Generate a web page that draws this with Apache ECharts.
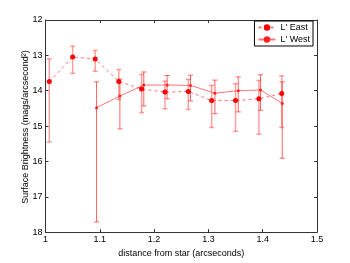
<!DOCTYPE html>
<html><head><meta charset="utf-8">
<script src="https://cdn.jsdelivr.net/npm/echarts@6/dist/echarts.min.js"></script>
<style>html,body{margin:0;padding:0;background:#fff}#c{width:350px;height:263px}</style>
</head><body><div id="c"></div>
<script>
const eastX   = [1.007, 1.050, 1.0915, 1.135, 1.177, 1.220, 1.263, 1.306, 1.350, 1.393, 1.435];
const eastY   = [13.74, 13.05, 13.10, 13.74, 13.95, 14.04, 14.02, 14.28, 14.28, 14.23, 14.08];
const eastTop = [13.10, 12.74, 12.86, 13.40, 13.54, 13.73, 13.68, 13.85, 13.80, 13.71, 13.58];
const eastBot = [15.45, 13.51, 13.45, 14.25, 14.62, 14.51, 14.53, 15.04, 15.15, 15.23, 15.04];
const westX   = [1.094, 1.137, 1.181, 1.224, 1.267, 1.312, 1.355, 1.396, 1.436];
const westY   = [14.48, 14.15, 13.84, 13.84, 13.85, 14.07, 14.00, 13.98, 14.36];
const westTop = [13.75, 13.67, 13.47, 13.57, 13.56, 13.70, 13.61, 13.55, 13.75];
const westBot = [17.71, 15.08, 14.43, 14.23, 14.29, 14.65, 14.60, 14.55, 15.91];
const xTicks = [1, 1.1, 1.2, 1.3, 1.4, 1.5];
const yTicks = [12, 13, 14, 15, 16, 17, 18];
const yTitle = 'Surface Brightness (mags/arcsecond\u00B2)';
const xTitle = 'distance from star (arcseconds)';

const FONT = 'Liberation Sans, Arial, sans-serif';
function errSeries(xs, tops, bots, color, width) {
  const data = xs.map((x, i) => [x, tops[i], bots[i]]);
  return {
    type: 'custom', data: data, z: 1, silent: true,
    renderItem: function (params, api) {
      const p1 = api.coord([api.value(0), api.value(1)]);
      const p2 = api.coord([api.value(0), api.value(2)]);
      const h = 2.5;
      const st = { stroke: color, lineWidth: width, fill: null };
      return { type: 'group', children: [
        { type: 'line', shape: { x1: p1[0], y1: p1[1], x2: p2[0], y2: p2[1] }, style: st },
        { type: 'line', shape: { x1: p1[0]-h, y1: p1[1], x2: p1[0]+h, y2: p1[1] }, style: st },
        { type: 'line', shape: { x1: p2[0]-h, y1: p2[1], x2: p2[0]+h, y2: p2[1] }, style: st }
      ]};
    }
  };
}
const axisCommon = {
  type: 'value', splitLine: { show: false },
  axisLine: { show: true, onZero: false, lineStyle: { color: '#333', width: 1 } },
  axisTick: { show: true, inside: true, length: 3, lineStyle: { color: '#333' } }
};
const chart = echarts.init(document.getElementById('c'), null, { renderer: 'canvas' });
chart.setOption({
  animation: false,
  textStyle: { fontFamily: FONT },
  grid: { left: 45.5, right: 33, top: 20, bottom: 29 },
  graphic: [{
    type: 'text', x: 26, y: 127, rotation: Math.PI / 2, silent: true,
    style: { text: yTitle, align: 'center', verticalAlign: 'middle', fill: '#000',
      font: '9px ' + FONT }
  }],
  xAxis: [
    Object.assign({}, axisCommon, { min: 1, max: 1.5, interval: 0.1, position: 'bottom',
      name: xTitle, nameLocation: 'middle', nameGap: 11,
      nameTextStyle: { fontSize: 9, color: '#000', fontFamily: FONT },
      axisLabel: { fontSize: 9, color: '#000', margin: 3, fontFamily: FONT,
        formatter: v => String(Math.round(v * 10) / 10) } }),
    Object.assign({}, axisCommon, { min: 1, max: 1.5, interval: 0.1, position: 'top', axisLabel: { show: false } })
  ],
  yAxis: [
    Object.assign({}, axisCommon, { min: 12, max: 18, interval: 1, inverse: true, position: 'left',
      axisLabel: { fontSize: 9, color: '#000', margin: 3, fontFamily: FONT } }),
    Object.assign({}, axisCommon, { min: 12, max: 18, interval: 1, inverse: true, position: 'right', axisLabel: { show: false } })
  ],
  legend: {
    right: 37, top: 21, orient: 'vertical', itemGap: 3, itemWidth: 17, itemHeight: 8,
    padding: [2, 3, 2, 3], borderColor: '#000', borderWidth: 1, backgroundColor: '#fff',
    textStyle: { fontSize: 9, color: '#000', fontFamily: FONT },
    data: ["L' East", "L' West"]
  },
  series: [
    errSeries(eastX, eastTop, eastBot, 'rgba(255,80,80,0.55)', 1.5),
    errSeries(westX, westTop, westBot, 'rgba(255,60,60,0.8)', 1),
    { name: "L' East", type: 'line', data: eastX.map((x, i) => [x, eastY[i]]),
      symbol: 'circle', symbolSize: 5, z: 3,
      itemStyle: { color: '#ff0000' },
      lineStyle: { color: 'rgba(255,60,60,0.7)', width: 1, type: [3, 3] } },
    { name: "L' West", type: 'line', data: westX.map((x, i) => [x, westY[i]]),
      symbol: 'circle', symbolSize: 3, z: 3,
      itemStyle: { color: '#ff2020' },
      lineStyle: { color: 'rgba(255,60,60,0.7)', width: 1 } }
  ]
});
</script></body></html>
